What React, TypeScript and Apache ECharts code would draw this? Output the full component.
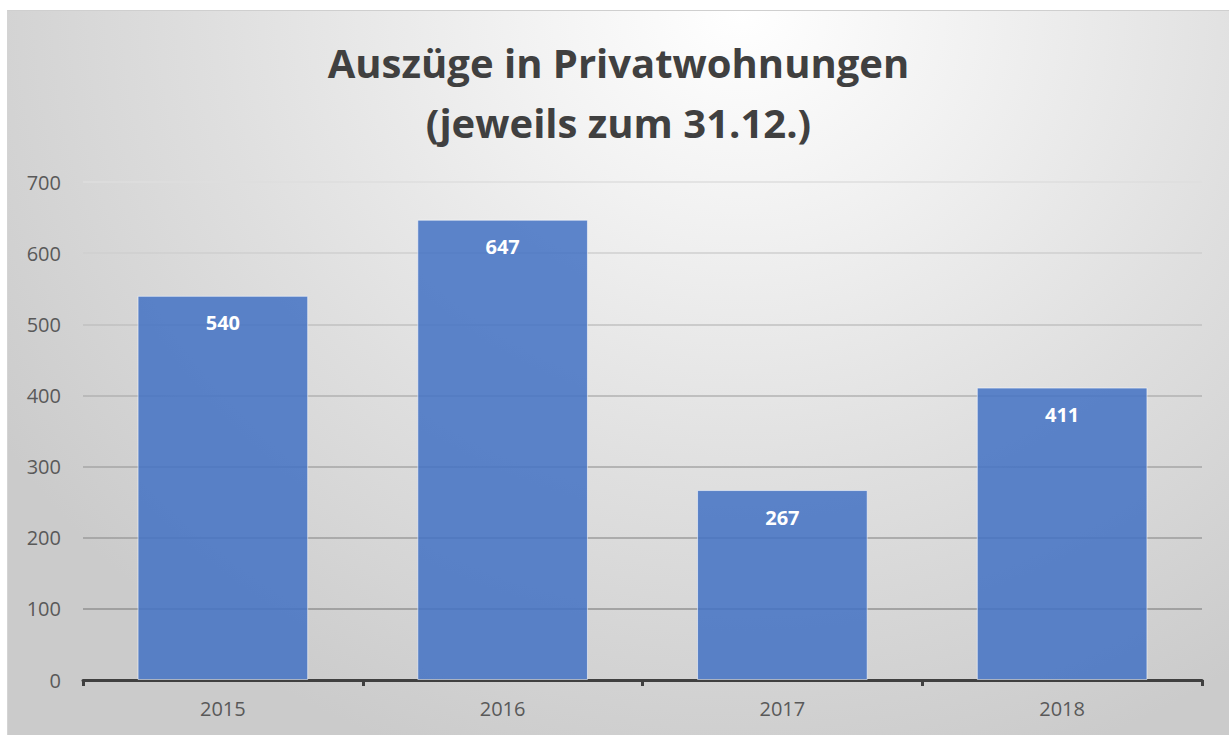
import React, { useEffect, useRef } from "react";
import * as echarts from "echarts";

const titleLines = ["Auszüge in Privatwohnungen", "(jeweils zum 31.12.)"];
const categories = ["2015", "2016", "2017", "2018"];
const values = [540, 647, 267, 411];
const yTicks = { min: 0, max: 700, interval: 100 };
const gridColors = ["#888888", "#929292", "#9c9c9c", "#a6a6a6", "#b2b2b2", "#c0c0c0", "#cfcfcf", "#dedede"];

export default function App() {
  const ref = useRef<HTMLDivElement>(null);
  useEffect(() => {
    if (!ref.current) return;
    const chart = echarts.init(ref.current, undefined, { renderer: "svg" });
    chart.setOption({
      animation: false,
      title: {
        text: titleLines.join("\n"),
        left: "center",
        top: 21,
        padding: 0,
        textStyle: {
          fontFamily: "Open Sans",
          fontWeight: "bold",
          fontSize: 40,
          lineHeight: 60,
          color: "#404040",
        },
      },
      grid: { left: 75, right: 27, top: 171, bottom: 55, containLabel: false },
      xAxis: {
        type: "category",
        data: categories,
        axisLine: { lineStyle: { color: "#404040", width: 3 } },
        axisTick: { show: true, length: 6, lineStyle: { color: "#404040", width: 3 } },
        axisLabel: { color: "#595959", fontFamily: "Open Sans", fontSize: 20, margin: 18 },
      },
      yAxis: {
        type: "value",
        min: yTicks.min,
        max: yTicks.max,
        interval: yTicks.interval,
        axisLine: { show: false },
        axisTick: { show: false },
        axisLabel: { color: "#595959", fontFamily: "Open Sans", fontSize: 20, margin: 22 },
        splitLine: { lineStyle: { color: gridColors, width: 1.5 } },
      },
      series: [
        {
          type: "bar",
          data: values,
          barCategoryGap: "39%",
          itemStyle: {
            color: "rgba(68,114,196,0.86)",
            borderColor: "rgba(255,255,255,0.55)",
            borderWidth: 1,
          },
          label: {
            show: true,
            position: "insideTop",
            distance: 17,
            color: "#ffffff",
            fontFamily: "Open Sans",
            fontWeight: "bold",
            fontSize: 20,
          },
        },
      ],
    });
    return () => chart.dispose();
  }, []);
  return (
    <div style={{ position: "fixed", left: 0, top: 0, width: 1229, height: 737, background: "#ffffff" }}>
      <div
        ref={ref}
        style={{
          position: "absolute",
          left: 7,
          top: 10,
          width: 1222,
          height: 725,
          borderTop: "1px solid #cfcfcf",
          borderLeft: "1px solid #d4d4d4",
          boxSizing: "border-box",
          background:
            "radial-gradient(ellipse 72% 110% at 60% 0%, #ffffff 0%, #f2f2f2 25%, #dfdfdf 60%, #cbcbcb 100%)",
        }}
      />
    </div>
  );
}
